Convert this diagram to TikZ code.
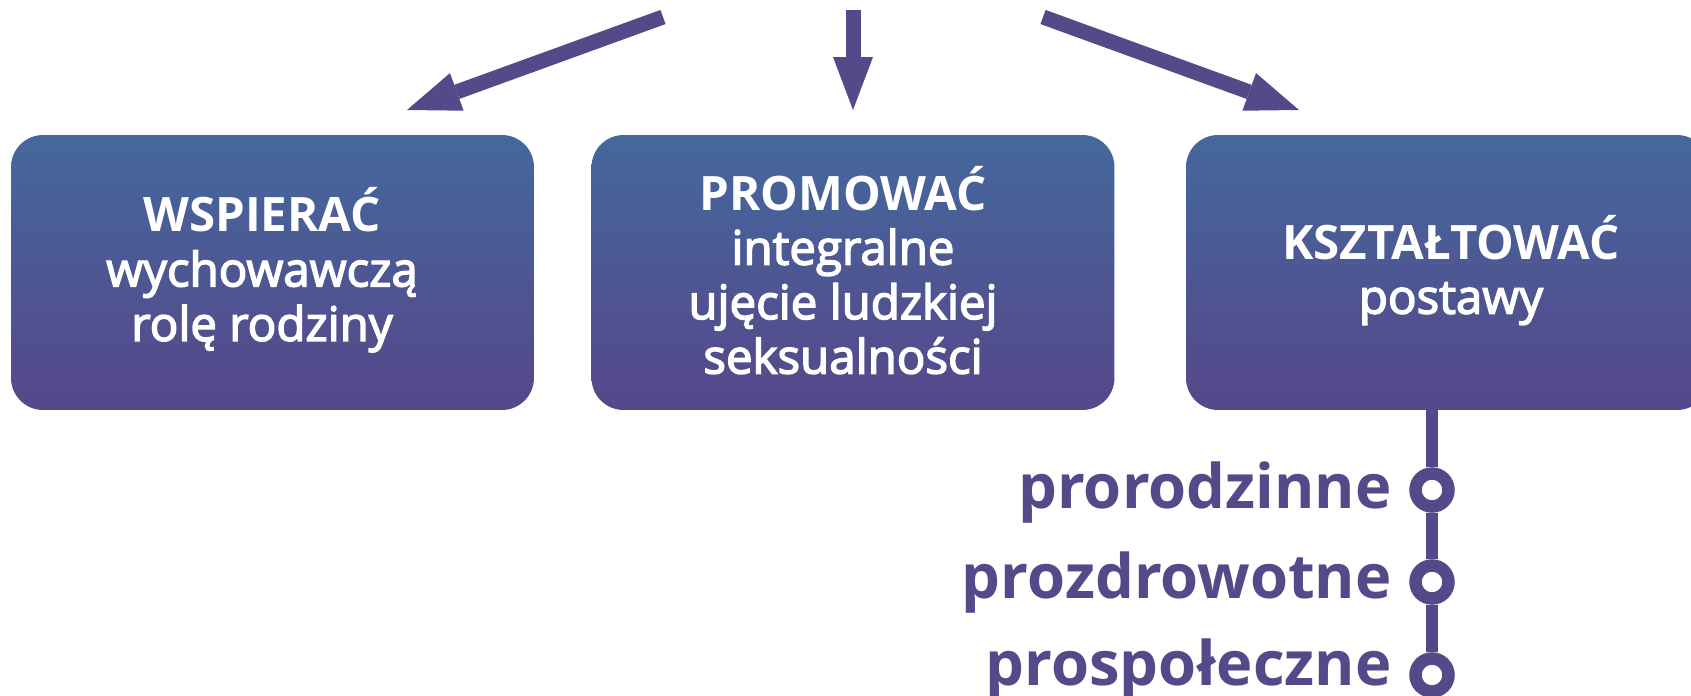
\documentclass[tikz,border=0pt]{standalone}
\usepackage{fontspec}
\setmainfont{Open Sans}
\newfontfamily\semifont{Open Sans}[FakeBold=3]
\usetikzlibrary{arrows.meta}
\definecolor{boxtop}{RGB}{68,104,156}
\definecolor{boxbot}{RGB}{86,71,138}
\definecolor{ink}{RGB}{84,74,138}
\tikzset{
  goal/.style={rounded corners=0.64cm, top color=boxtop, bottom color=boxbot,
    minimum width=10.46cm, minimum height=5.5cm},
  goaltext/.style={align=center, text=white,
    font=\fontsize{27}{31}\selectfont\semifont},
  push/.style={ink, line width=0.3cm,
    -{Triangle[length=1.06cm, width=0.8cm, line width=0pt]}},
  stem/.style={ink, line width=0.24cm},
  station/.style={circle, draw=ink, fill=white, line width=0.25cm,
    minimum size=0.66cm, inner sep=0pt},
  attitude/.style={anchor=base east, inner sep=0pt, text=ink,
    font=\fontsize{35}{40}\selectfont\bfseries},
}
\begin{document}
\begin{tikzpicture}[x=0.02cm, y=-0.02cm]
            \useasboundingbox (0, 0) rectangle (1691, 696) ;
            % goals
            \draw (+272.5, +272.5) node[goal](wspierac){} ;
            \draw (+853.0, +272.5) node[goal](promowac){} ;
            \draw (+1447.5, +272.5) node[goal](ksztaltowac){} ;
            \draw (+262.0, +270.0) node[goaltext](wspierac-t){{\rmfamily\bfseries WSPIERAĆ}\\wychowawczą\\rolę rodziny} ;
            \draw (+843.0, +270.0) node[goaltext](promowac-t){{\rmfamily\bfseries PROMOWAĆ}\\integralne\\ujęcie ludzkiej\\seksualności} ;
            \draw (+1451.0, +270.0) node[goaltext](ksztaltowac-t){{\rmfamily\bfseries KSZTAŁTOWAĆ}\\postawy} ;
            % arrow ends
            \coordinate (t1) at (+663, +17) ;
            \coordinate (h1) at (+407, +110) ;
            \coordinate (t2) at (+853, +10) ;
            \coordinate (h2) at (+853, +110) ;
            \coordinate (t3) at (+1043, +17) ;
            \coordinate (h3) at (+1299, +110) ;
            % attitudes
            \draw (+1432, +490) node[station](s1){} ;
            \draw (+1432, +582) node[station](s2){} ;
            \draw (+1432, +675) node[station](s3){} ;
            \draw (+1392, +508) node[attitude](a1){prorodzinne} ;
            \draw (+1392, +598) node[attitude](a2){prozdrowotne} ;
            \draw (+1392, +685) node[attitude](a3){prospołeczne} ;
            % Arrows
            \draw[push] (t1) -- (h1) ;
            \draw[push] (t2) -- (h2) ;
            \draw[push] (t3) -- (h3) ;
            \draw[stem] (ksztaltowac.south -| s1) -- (s1) ;
            \draw[stem] (s1) -- (s2) ;
            \draw[stem] (s2) -- (s3) ;
        \end{tikzpicture}
\end{document}
